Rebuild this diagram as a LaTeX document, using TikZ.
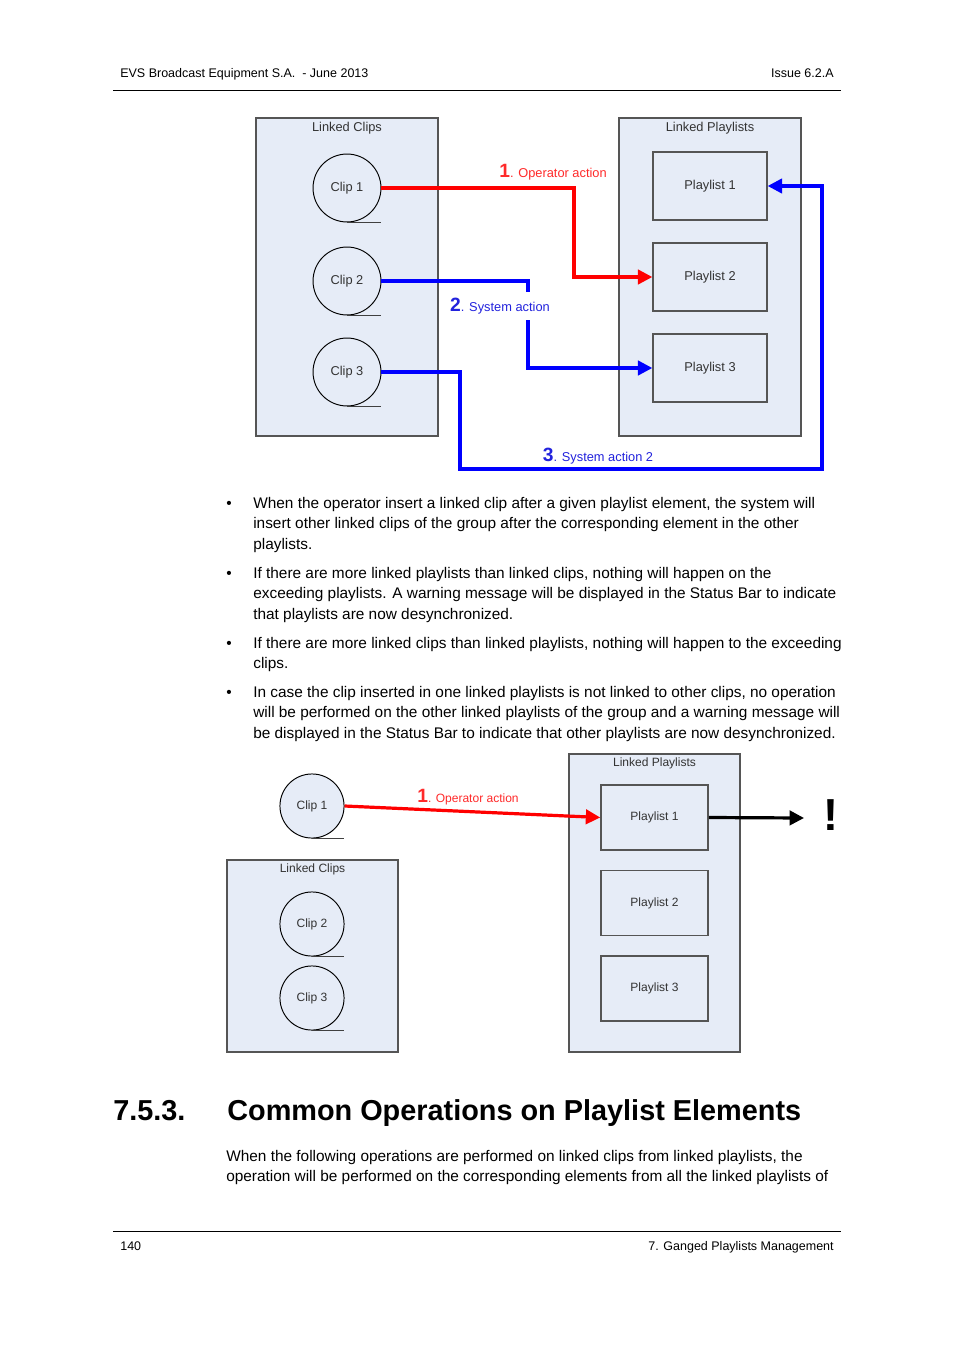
\documentclass[tikz,border=0pt]{standalone}
\usepackage{fontspec}
\setmainfont{Liberation Sans}
\usetikzlibrary{arrows.meta,positioning}

\definecolor{boxfill}{HTML}{E6ECF7}
\definecolor{boxline}{HTML}{555555}
\definecolor{labgray}{HTML}{333333}
\definecolor{opred}{HTML}{FF0000}
\definecolor{sysblue}{HTML}{0000FF}
\definecolor{redtext}{HTML}{FF2A2A}
\definecolor{bluetext}{HTML}{2222DD}

\newcommand{\stepno}[1]{{\fontsize{12}{12}\selectfont\bfseries #1}}

\tikzset{
  grp/.style={draw=boxline, fill=boxfill, line width=0.7pt, inner sep=0pt},
  grptitle/.style={text=labgray, font=\fontsize{8}{9}\selectfont, anchor=north, inner sep=2.5pt},
  reel/.style={circle, draw=black, fill=boxfill, line width=0.6pt, minimum size=42.4pt, inner sep=0pt,
    text=labgray, font=\fontsize{8}{9}\selectfont},
  plist/.style={draw=boxline, fill=boxfill, line width=0.9pt, minimum width=71.1pt, minimum height=42.4pt,
    text=labgray, font=\fontsize{8}{9}\selectfont},
  tail/.style={draw=black!75, line width=0.6pt},
  link/.style={line width=2pt, -{Triangle[length=9pt,width=9pt]}},
  actlabel/.style={inner sep=1pt, font=\fontsize{8}{9}\selectfont},
  bodytext/.style={align=left, anchor=north west, inner sep=0pt, font=\fontsize{9.6}{12.67}\selectfont},
  bulletmark/.style={anchor=base west, inner sep=0pt, font=\fontsize{9.6}{12.67}\selectfont},
  pagetext/.style={inner sep=0pt, font=\fontsize{7.8}{9.6}\selectfont}
}

\begin{document}
\begin{tikzpicture}[x=0.624pt, y=-0.624pt]
\useasboundingbox[fill=white] (0,0) rectangle (954,1350);

% header and footer
\node[pagetext, anchor=base west] (hdl) at (120,78) {EVS Broadcast Equipment S.A.~ - June 2013};
\node[pagetext, anchor=base east] (hdr) at (834,78) {Issue 6.2.A};
\draw[line width=0.6pt] (113,90) -- (841,90);
\draw[line width=0.6pt] (113,1231) -- (841,1231);
\node[pagetext, anchor=base west] (ftl) at (120,1250) {140};
\node[pagetext, anchor=base east] (ftr) at (834,1250) {7. Ganged Playlists Management};

% first diagram
\node[grp, minimum width=113.6pt, minimum height=198.4pt] (lclips) at (347,277) {};
\node[grptitle] at (lclips.north) {Linked Clips};
\node[grp, minimum width=113.6pt, minimum height=198.4pt] (lplay) at (710,277) {};
\node[grptitle] at (lplay.north) {Linked Playlists};

\node[reel] (clip1) at (347,188) {Clip 1};
\node[reel] (clip2) at (347,281) {Clip 2};
\node[reel] (clip3) at (347,372) {Clip 3};
\foreach \c in {clip1,clip2,clip3}
  \draw[tail] (\c.south) -- ++(34,0);

\node[plist] (pl1) at (710,186) {Playlist 1};
\node[plist] (pl2) at (710,277) {Playlist 2};
\node[plist] (pl3) at (710,368) {Playlist 3};

\draw[link, opred] (clip1.east) -| (574,277) -- (pl2.west);
\draw[link, sysblue] (clip2.east) -| (528,368) -- (pl3.west);
\draw[link, sysblue] (clip3.east) -| (460,469) -| (822,186) -- (pl1.east);

\node[actlabel, text=redtext] (act1) at (553,172) {\stepno{1}. Operator action};
\node[actlabel, text=bluetext, fill=white, inner ysep=4pt] (act2) at (500,306) {\stepno{2}. System action};
\node[actlabel, text=bluetext] (act3) at (598,456) {\stepno{3}. System action 2};

% bullets
\foreach \y in {508,578,648,697}
  \node[bulletmark] at (226,\y) {•};
\node[bodytext] (b1) at (253,497) {When the operator insert a linked clip after a given playlist element, the system will\\
insert other linked clips of the group after the corresponding element in the other\\
playlists.};
\node[bodytext] (b2) at (253,567) {If there are more linked playlists than linked clips, nothing will happen on the\\
exceeding playlists. A warning message will be displayed in the Status Bar to indicate\\
that playlists are now desynchronized.};
\node[bodytext] (b3) at (253,637) {If there are more linked clips than linked playlists, nothing will happen to the exceeding\\
clips.};
\node[bodytext] (b4) at (253,686) {In case the clip inserted in one linked playlists is not linked to other clips, no operation\\
will be performed on the other linked playlists of the group and a warning message will\\
be displayed in the Status Bar to indicate that other playlists are now desynchronized.};

% second diagram
\node[grp, minimum width=106.7pt, minimum height=119.8pt] (lclipsb) at (312.5,956) {};
\node[grptitle, font=\fontsize{7.5}{9}\selectfont] at (lclipsb.north) {Linked Clips};
\node[grp, minimum width=106.7pt, minimum height=186pt] (lplayb) at (654.5,903) {};
\node[grptitle, font=\fontsize{7.5}{9}\selectfont] at (lplayb.north) {Linked Playlists};

\node[reel, minimum size=40pt, font=\fontsize{7.5}{9}\selectfont] (clipb1) at (312,806) {Clip 1};
\node[reel, minimum size=40pt, font=\fontsize{7.5}{9}\selectfont] (clipb2) at (312,924) {Clip 2};
\node[reel, minimum size=40pt, font=\fontsize{7.5}{9}\selectfont] (clipb3) at (312,998) {Clip 3};
\foreach \c in {clipb1,clipb2,clipb3}
  \draw[tail] (\c.south) -- ++(32,0);

\node[plist, minimum width=66.8pt, minimum height=40.6pt, font=\fontsize{7.5}{9}\selectfont] (plb1) at (654.5,817.5) {Playlist 1};
\node[plist, minimum width=66.8pt, minimum height=40.6pt, font=\fontsize{7.5}{9}\selectfont] (plb2) at (654.5,903) {Playlist 2};
\node[plist, minimum width=66.8pt, minimum height=40.6pt, font=\fontsize{7.5}{9}\selectfont] (plb3) at (654.5,988.5) {Playlist 3};

\coordinate (warnpt) at (804,818);
\draw[link, opred] (clipb1.east) -- (plb1.west);
\draw[link, black] (plb1.east) -- (warnpt);
\node[actlabel, text=redtext, font=\fontsize{7.5}{9}\selectfont] (actb1) at (468,797) {\stepno{1}. Operator action};
\node[font=\fontsize{28}{28}\selectfont\bfseries, inner sep=0pt] (warn) at (831,815) {!};

% section
\node[anchor=base west, inner sep=0pt, font=\fontsize{18}{20}\selectfont\bfseries] (secno) at (113,1120) {7.5.3.};
\node[anchor=base west, inner sep=0pt, font=\fontsize{18}{20}\selectfont\bfseries] (sectitle) at (227,1120) {Common Operations on Playlist Elements};
\node[bodytext] (para) at (226,1150) {When the following operations are performed on linked clips from linked playlists, the\\
operation will be performed on the corresponding elements from all the linked playlists of};
\end{tikzpicture}
\end{document}
